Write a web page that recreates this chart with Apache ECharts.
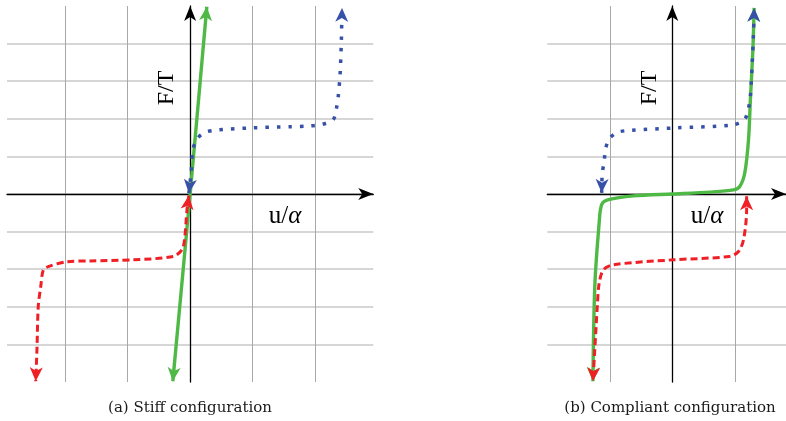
<!DOCTYPE html>
<html>
<head>
<meta charset="utf-8">
<script src="https://cdn.jsdelivr.net/npm/echarts@6/dist/echarts.min.js"></script>
<style>
  html, body { margin: 0; padding: 0; background: #ffffff; }
  #chart { width: 786px; height: 421px; }
</style>
</head>
<body>
<div id="chart"></div>
<script>
// ---- Stiff configuration: F/T against u/alpha ----
const stiffLoad = [[-0.277, -4.98], [0, 0], [0.267, 4.98]];
const stiffUp = [
  [-0.02, 0.02], [0.016, 0.57], [0.043, 1.16], [0.107, 1.46], [0.24, 1.64], [0.43, 1.70],
  [1.0, 1.76], [1.6, 1.79], [1.92, 1.81], [2.11, 1.85], [2.29, 1.98], [2.34, 2.27],
  [2.37, 2.6], [2.40, 3.2], [2.42, 4.1], [2.43, 4.95]
];
const stiffDown = [
  [-0.02, -0.04], [-0.05, -0.42], [-0.09, -1.22], [-0.13, -1.48], [-0.27, -1.66], [-0.91, -1.75],
  [-1.6, -1.78], [-1.97, -1.80], [-2.27, -1.93], [-2.35, -2.03], [-2.39, -2.46], [-2.43, -2.99],
  [-2.45, -4.1], [-2.47, -4.98]
];

// ---- Compliant configuration ----
const compliantLoad = [
  [-1.27, -4.98], [-1.24, -2.46], [-1.17, -0.77], [-1.13, -0.28], [-1.02, -0.15], [-0.62, -0.05],
  [0, 0], [0.6, 0.05], [0.98, 0.11], [1.08, 0.20], [1.16, 0.56], [1.22, 1.44], [1.25, 2.51],
  [1.29, 3.84], [1.31, 4.95]
];
const compliantUp = [
  [-1.13, 0.03], [-1.12, 0.56], [-1.09, 0.85], [-1.07, 1.18], [-1.01, 1.46], [-0.88, 1.64],
  [-0.68, 1.69], [0.07, 1.76], [0.98, 1.84], [1.16, 1.99], [1.22, 2.29], [1.25, 2.60],
  [1.28, 3.5], [1.30, 4.28], [1.31, 4.95]
];
const compliantDown = [
  [1.19, -0.06], [1.19, -0.42], [1.14, -1.22], [1.06, -1.53], [0.92, -1.66], [0.02, -1.75],
  [-0.94, -1.88], [-1.10, -2.01], [-1.17, -2.37], [-1.20, -2.99], [-1.24, -4.14], [-1.27, -4.98]
];

// vertical grid lines along u/alpha and the axis extents
const xLinesA = [-2, -1, 0, 1, 2];
const xLinesB = [-1, 0, 1];
const xRangeA = [-2.93, 2.93];
const xRangeB = [-2, 1.82];
const yRange = [-5, 5];

const captions = ['(a) Stiff configuration', '(b) Compliant configuration'];
const yName = 'F/T';

const GREEN = '#4fb946';
const BLUE = '#3750a8';
const RED = '#ef1f26';

const HEAD = 'path://M6,0 L12,13 L6,9.5 L0,13 Z';
const AXIS_HEAD = 'path://M6,0 L12,15 L6,11 L0,15 Z';

// arrow heads at both ends of a curve, oriented along its end segments
function arrowHeads(pts, color) {
  const n = pts.length;
  const head = { symbol: HEAD, symbolSize: [13, 14], symbolOffset: [0, 7] };
  return {
    silent: true,
    symbol: ['none', 'none'],
    label: { show: false },
    emphasis: { disabled: true },
    lineStyle: { color: color, width: 0, type: 'solid' },
    data: [
      [{ coord: pts[1], symbol: 'none' }, Object.assign({ coord: pts[0] }, head)],
      [{ coord: pts[n - 2], symbol: 'none' }, Object.assign({ coord: pts[n - 1] }, head)]
    ]
  };
}

function curve(name, pts, gi, color, type, width) {
  return {
    name: name,
    type: 'line',
    xAxisIndex: gi,
    yAxisIndex: gi,
    data: pts,
    smooth: 0.3,
    showSymbol: false,
    symbol: 'none',
    lineStyle: { color: color, width: width, type: type, cap: 'butt' },
    markLine: arrowHeads(pts, color),
    z: 3
  };
}

function xAxisFor(gi, range, lines) {
  return {
    type: 'value', gridIndex: gi, min: range[0], max: range[1],
    axisLine: {
      show: true, onZero: true,
      symbol: ['none', AXIS_HEAD], symbolSize: [12, 15], symbolOffset: [0, -7.5],
      lineStyle: { color: '#000', width: 1.3 }
    },
    axisTick: { show: false, customValues: lines },
    axisLabel: { show: false },
    splitLine: { show: true, lineStyle: { color: '#a8a8a8', width: 1 } }
  };
}

function yAxisFor(gi) {
  return {
    type: 'value', gridIndex: gi, min: yRange[0], max: yRange[1], interval: 1,
    axisLine: {
      show: true, onZero: true,
      symbol: ['none', AXIS_HEAD], symbolSize: [12, 15], symbolOffset: [0, -7.5],
      lineStyle: { color: '#000', width: 1.3 }
    },
    axisTick: { show: false },
    axisLabel: { show: false },
    splitLine: { show: true, showMinLine: false, showMaxLine: false, lineStyle: { color: '#c9c9c9', width: 1.6 } }
  };
}

const mathFont = '"Liberation Serif", "DejaVu Serif", serif';
const capFont = '"DejaVu Serif", serif';

function axisTexts(yx, uxc) {
  return [
    { type: 'text', x: yx, y: 88, rotation: Math.PI / 2, z: 10,
      style: { text: yName, font: '24px ' + mathFont, fill: '#000', align: 'center', verticalAlign: 'middle' } },
    { type: 'text', x: uxc, y: 216, z: 10,
      style: {
        text: '{r|u/}{m|α}', align: 'center', verticalAlign: 'middle',
        rich: {
          r: { fontFamily: mathFont, fontSize: 25, fill: '#000' },
          m: { fontFamily: mathFont, fontSize: 25, fontStyle: 'italic', fill: '#000' }
        }
      } }
  ];
}

const chart = echarts.init(document.getElementById('chart'), null, { renderer: 'canvas' });
chart.setOption({
  animation: false,
  backgroundColor: '#ffffff',
  grid: [
    { left: 7, top: 6, width: 366.25, height: 376 },
    { left: 547.3, top: 6, width: 238.7, height: 376 }
  ],
  xAxis: [xAxisFor(0, xRangeA, xLinesA), xAxisFor(1, xRangeB, xLinesB)],
  yAxis: [yAxisFor(0), yAxisFor(1)],
  series: [
    curve('loading', stiffLoad, 0, GREEN, 'solid', 3.4),
    curve('unloading, negative', stiffDown, 0, RED, [7, 4], 3),
    curve('unloading, positive', stiffUp, 0, BLUE, [3.5, 8], 3.5),
    curve('loading', compliantLoad, 1, GREEN, 'solid', 3.4),
    curve('unloading, negative', compliantDown, 1, RED, [7, 4], 3),
    curve('unloading, positive', compliantUp, 1, BLUE, [3.5, 8], 3.5)
  ],
  graphic: [].concat(
    axisTexts(167, 285),
    axisTexts(650, 707),
    [
      { type: 'text', x: 190, y: 408, style: { text: captions[0], font: '15px ' + capFont, fill: '#1a1a1a', align: 'center', verticalAlign: 'middle' } },
      { type: 'text', x: 670, y: 408, style: { text: captions[1], font: '15px ' + capFont, fill: '#1a1a1a', align: 'center', verticalAlign: 'middle' } }
    ]
  )
});
</script>
</body>
</html>
